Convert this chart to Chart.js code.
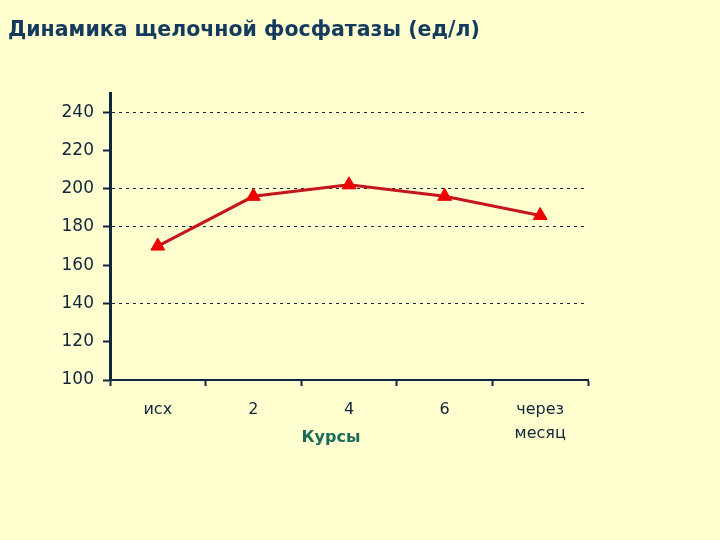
<!DOCTYPE html>
<html>
<head>
<meta charset="utf-8">
<script src="https://cdn.jsdelivr.net/npm/chart.js@4/dist/chart.umd.min.js"></script>
<style>
    body { margin: 0; background: #ffffd0; }
    #wrap { width: 720px; height: 540px; }
</style>
</head>
<body>
<div id="wrap"><canvas id="myChart" width="720" height="540"></canvas></div>
<script>
const courses = ["исх", "2", "4", "6", ["через", "месяц"]];
const phosphatase = [170, 196, 202, 196, 186];
const yTicks = [100, 120, 140, 160, 180, 200, 220, 240];
const gridValues = [140, 180, 200, 240];

const titleText = "Динамика щелочной фосфатазы (ед/л)";
const xTitle = "Курсы";

const dark = "#10263d";

const extraText = {
    id: "extraText",
    beforeDraw(chart) {
        const c = chart.ctx;
        c.save();
        c.fillStyle = "#ffffd0";
        c.fillRect(0, 0, chart.width, chart.height);
        c.restore();
    },
    afterDraw(chart) {
        const c = chart.ctx;
        const area = chart.chartArea;
        c.save();
        c.fillStyle = "#143a5e";
        c.font = "bold 20.5px 'DejaVu Sans'";
        c.textBaseline = "alphabetic";
        c.textAlign = "left";
        c.fillText(titleText, 8, 36);
        c.fillStyle = "#1d6b5c";
        c.font = "bold 16px 'DejaVu Sans'";
        c.textAlign = "center";
        c.textBaseline = "middle";
        c.fillText(xTitle, (area.left + area.right) / 2 - 18, 438);
        c.restore();
    }
};

const ctx = document.getElementById("myChart").getContext("2d");
const myChart = new Chart(ctx, {
    type: "line",
    data: {
        labels: courses,
        datasets: [{
            label: "ЩФ",
            data: phosphatase,
            borderColor: "#c4161c",
            borderWidth: 3,
            pointStyle: "triangle",
            pointRadius: 8,
            pointBackgroundColor: "#ee0000",
            pointBorderColor: "#ee0000",
            pointBorderWidth: 1,
            tension: 0
        }]
    },
    options: {
        responsive: false,
        animation: false,
        layout: { padding: { top: 93, right: 132, bottom: 0, left: 0 } },
        plugins: {
            legend: { display: false },
            title: { display: false },
            tooltip: { enabled: false }
        },
        scales: {
            x: {
                offset: true,
                afterFit: scale => { scale.height = 160; },
                grid: {
                    offset: true,
                    drawOnChartArea: false,
                    drawTicks: true,
                    tickLength: 6,
                    tickColor: dark,
                    tickWidth: 2
                },
                border: { color: dark, width: 2 },
                ticks: {
                    color: dark,
                    padding: 12,
                    maxRotation: 0,
                    font: { family: "DejaVu Sans", size: 16, lineHeight: 1.5 }
                }
            },
            y: {
                min: 100,
                max: 250,
                afterFit: scale => { scale.width = 110; },
                afterBuildTicks: scale => { scale.ticks = yTicks.map(v => ({ value: v })); },
                grid: {
                    color: c => gridValues.includes(c.tick && c.tick.value) ? dark : "rgba(0,0,0,0)",
                    lineWidth: 1,
                    tickColor: dark,
                    tickBorderDash: [],
                    tickLength: 7,
                    tickWidth: 2
                },
                border: { color: dark, width: 3, dash: [3, 4] },
                ticks: {
                    color: dark,
                    padding: 9,
                    font: { family: "DejaVu Sans", size: 17 }
                }
            }
        }
    },
    plugins: [extraText]
});
</script>
</body>
</html>
